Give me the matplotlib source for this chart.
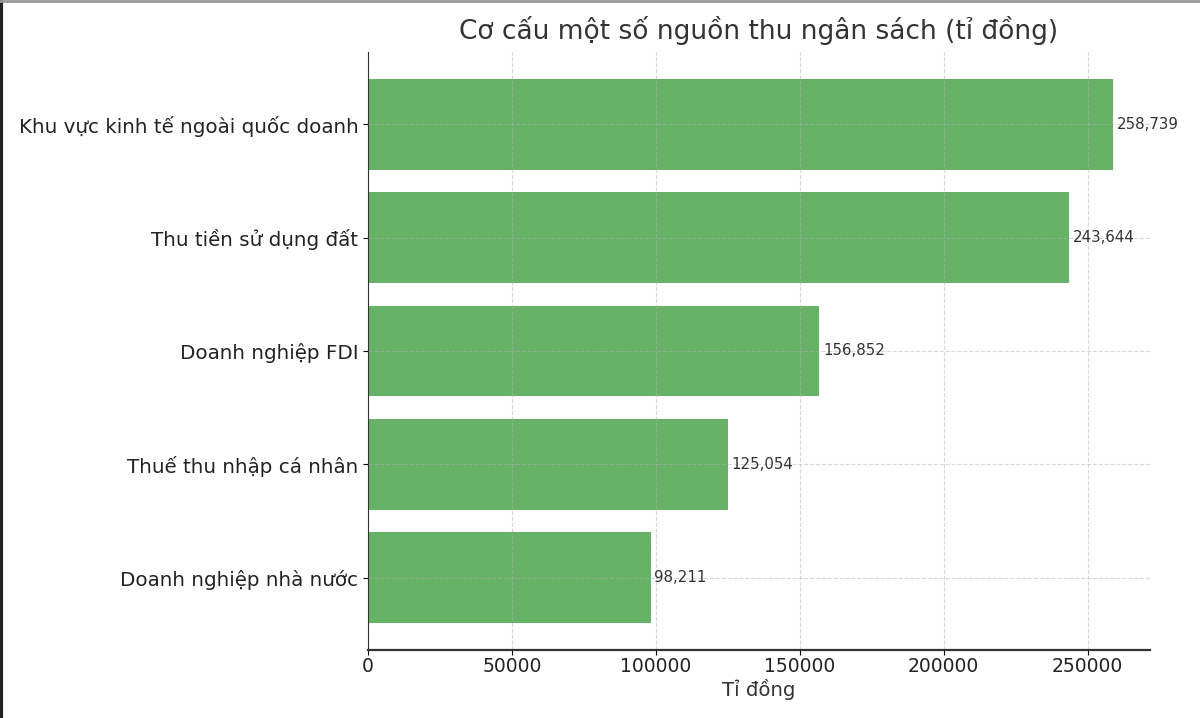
import matplotlib
matplotlib.use("Agg")
import matplotlib.pyplot as plt
from matplotlib.lines import Line2D

# data
categories = [
    "Khu vực kinh tế ngoài quốc doanh",
    "Thu tiền sử dụng đất",
    "Doanh nghiệp FDI",
    "Thuế thu nhập cá nhân",
    "Doanh nghiệp nhà nước",
]
values = [258739, 243644, 156852, 125054, 98211]

title = "Cơ cấu một số nguồn thu ngân sách (tỉ đồng)"
x_label = "Tỉ đồng"

fig = plt.figure(figsize=(12, 7.18), dpi=100)
ax = fig.add_axes([0.3067, 0.0947, 0.6516, 0.8329])

# largest on top
cats = categories[::-1]
vals = values[::-1]
bars = ax.barh(cats, vals, color="green", alpha=0.6, height=0.8)

for b, v in zip(bars, vals):
    ax.text(v + 1300, b.get_y() + b.get_height() / 2, f"{v:,}",
            va="center", ha="left", fontsize=10.8, color="#333333")

ax.set_title(title, fontsize=19, color="#333333", pad=9)
ax.set_xlabel(x_label, fontsize=14.2, color="#333333", labelpad=2)
ax.tick_params(axis="x", labelsize=13.5, labelcolor="#222222", pad=1.5)
ax.tick_params(axis="y", labelsize=14.3, labelcolor="#222222")
ax.grid(True, linestyle="--", alpha=0.5)
ax.spines["top"].set_visible(False)
ax.spines["right"].set_visible(False)
ax.spines["left"].set_color("#333333")
ax.spines["bottom"].set_color("#333333")
ax.spines["bottom"].set_linewidth(1.6)

# screenshot border
fig.add_artist(Line2D([0.001, 0.001], [0, 1], transform=fig.transFigure, color="#222222", lw=3))
fig.add_artist(Line2D([0, 1], [0.998, 0.998], transform=fig.transFigure, color="#999999", lw=2))

fig.savefig("out.png", dpi=100)
